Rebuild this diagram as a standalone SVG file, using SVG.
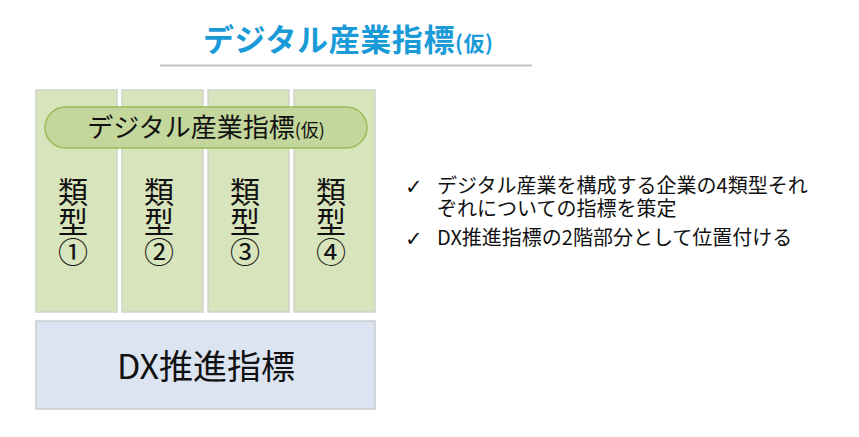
<svg xmlns="http://www.w3.org/2000/svg" width="859" height="437" viewBox="0 0 859 437">
<style>
text{font-family:"Noto Sans CJK JP","Noto Sans",sans-serif;fill:#111}
.col{fill:#d8e4bc;stroke:#cfd3cb;stroke-width:1.5}
.ct{font-size:30px;writing-mode:vertical-rl;text-anchor:start}
.bl{font-size:20px}
.ck{font-family:"DejaVu Sans",sans-serif;font-size:21px;font-weight:bold}
</style>
<rect width="859" height="437" fill="#fff"/>
<g id="title">
<text x="203" y="51" style="font-size:31px;font-weight:bold;fill:#1a9bd7" textLength="290" lengthAdjust="spacing">デジタル産業指標<tspan style="font-size:21px">(仮)</tspan></text>
<line x1="160" y1="65.5" x2="532" y2="65.5" stroke="#c4c4c4" stroke-width="2"/>
</g>
<g id="type1"><rect class="col" x="36" y="90" width="81" height="222"/><text class="ct" x="73" y="177">類型①</text></g>
<g id="type2"><rect class="col" x="122" y="90" width="81" height="222"/><text class="ct" x="159" y="177">類型②</text></g>
<g id="type3"><rect class="col" x="208" y="90" width="81" height="222"/><text class="ct" x="245" y="177">類型③</text></g>
<g id="type4"><rect class="col" x="294" y="90" width="81" height="222"/><text class="ct" x="331" y="177">類型④</text></g>
<g id="digital">
<rect x="45" y="107" width="322" height="41" rx="20.5" fill="#c3d69b" stroke="#9bbb59" stroke-width="1.5"/>
<text x="206" y="137" text-anchor="middle" style="font-size:26px">デジタル産業指標<tspan style="font-size:18px">(仮)</tspan></text>
</g>
<g id="dx">
<rect x="36" y="321" width="339" height="88" fill="#dbe4f0" stroke="#c9ccd1" stroke-width="1.5"/>
<text x="206" y="379" text-anchor="middle" style="font-size:34px">DX推進指標</text>
</g>
<g id="bullets">
<text class="ck" x="405" y="194">✓</text>
<text class="bl" x="437" y="193">デジタル産業を構成する企業の4類型それ<tspan x="437" dy="23">ぞれについての指標を策定</tspan></text>
<text class="ck" x="405" y="246">✓</text>
<text class="bl" x="437" y="245">DX推進指標の2階部分として位置付ける</text>
</g>
<g id="connectors"/>
</svg>
